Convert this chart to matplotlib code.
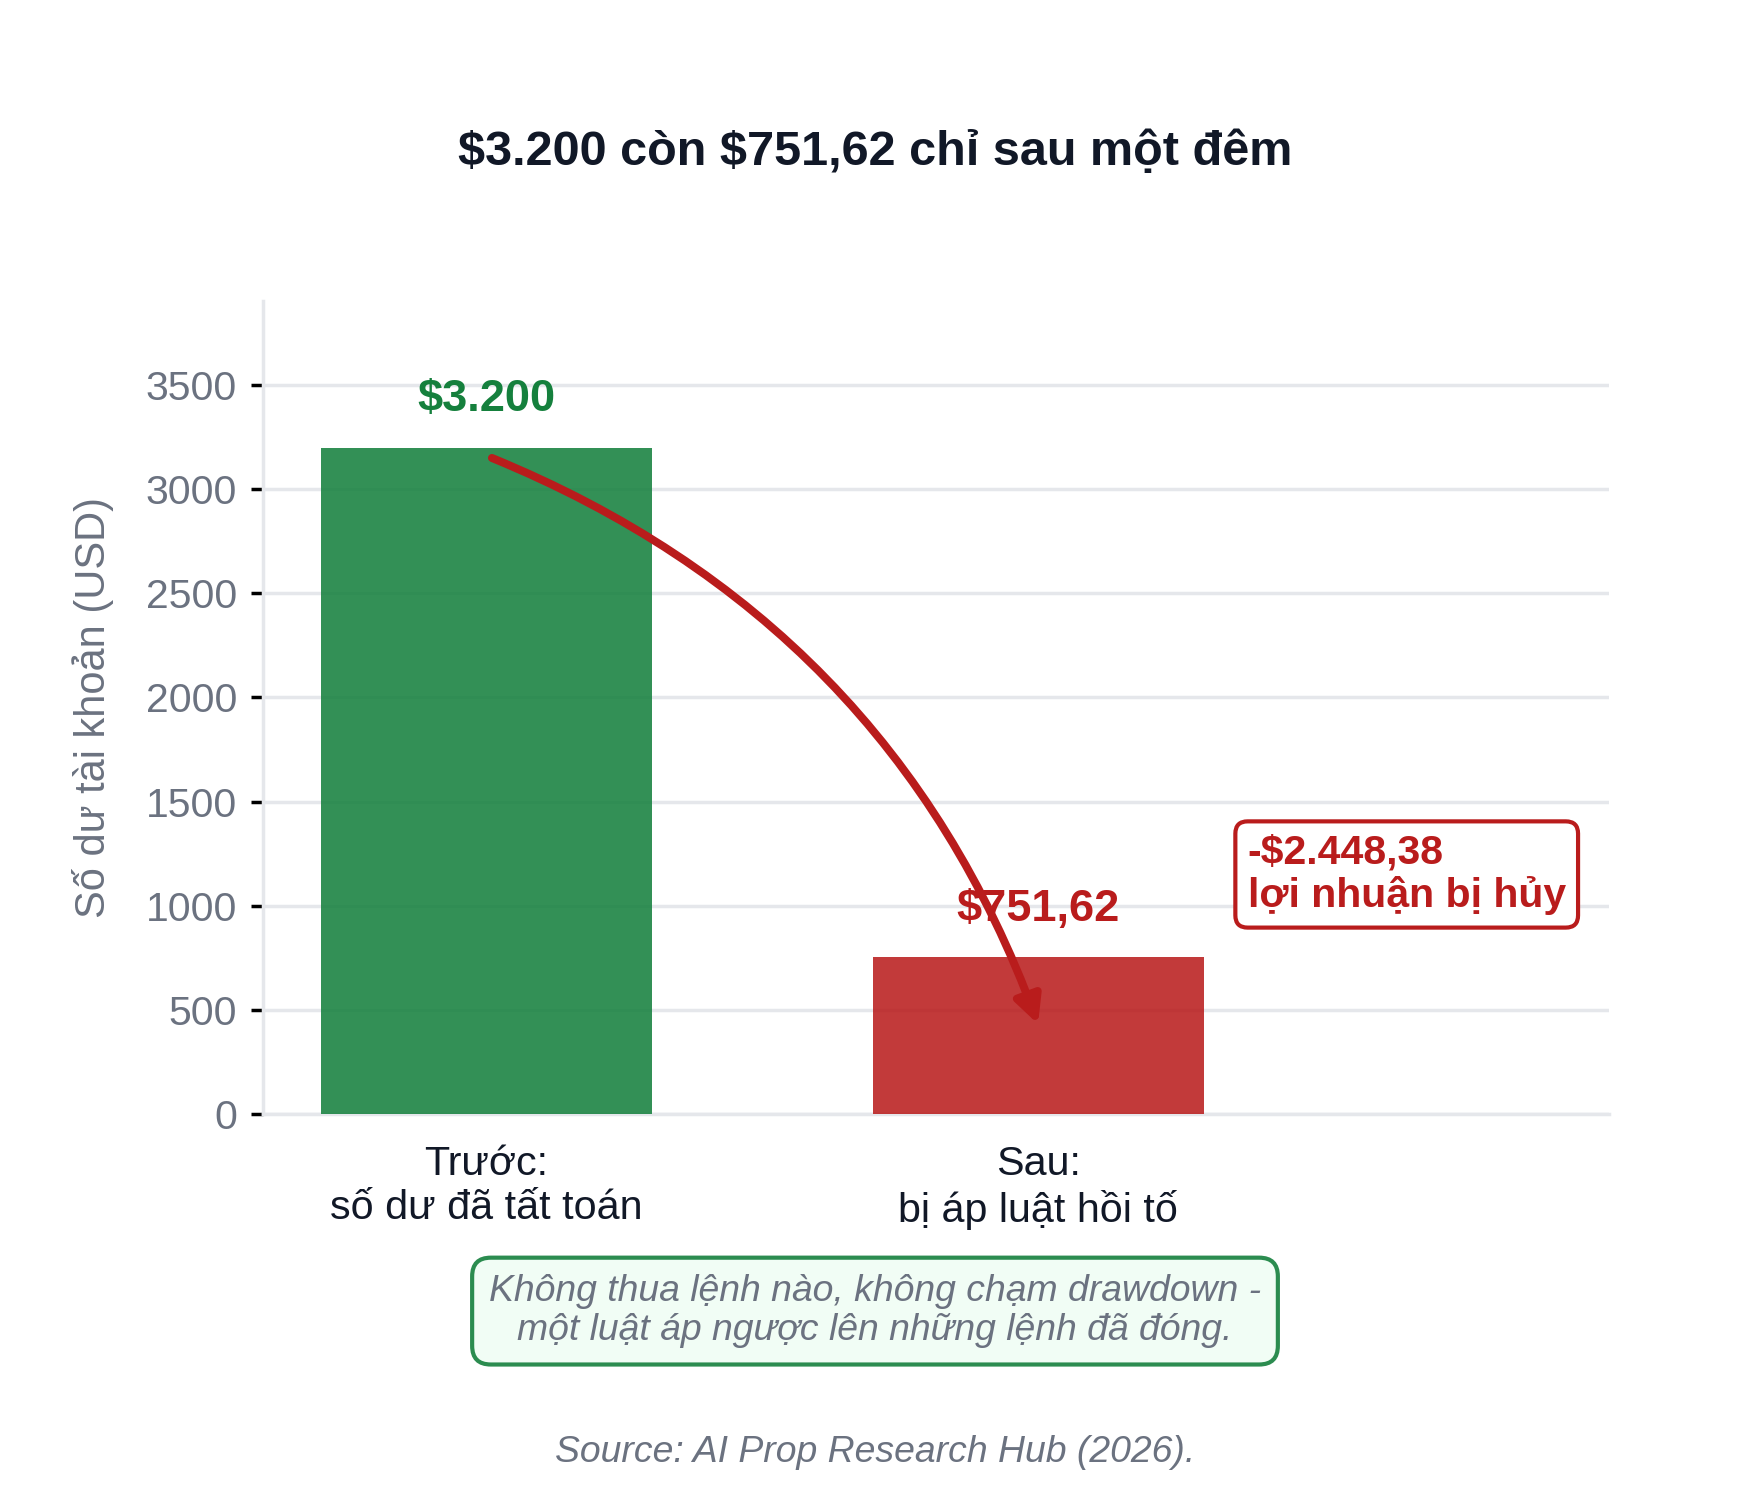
import matplotlib
matplotlib.use("Agg")
import matplotlib.pyplot as plt

plt.rcParams['font.family'] = ['Liberation Sans', 'DejaVu Sans']

# ---- data ----
categories = ["Trước:\nsố dư đã tất toán", "Sau:\nbị áp luật hồi tố"]
values = [3200.0, 751.62]
value_labels = ["$3.200", "$751,62"]
loss_label = "-$2.448,38\nlợi nhuận bị hủy"
title = "$3.200 còn $751,62 chỉ sau một đêm"
ylabel = "Số dư tài khoản (USD)"
note = "Không thua lệnh nào, không chạm drawdown -\nmột luật áp ngược lên những lệnh đã đóng."
source = "Source: AI Prop Research Hub (2026)."
yticks = [0, 500, 1000, 1500, 2000, 2500, 3000, 3500]

GREEN = "#15803d"
RED = "#b91c1c"
DARK = "#111827"
GRAY = "#6b7280"
GRID = "#e5e7eb"

fig = plt.figure(figsize=(7, 6.028), dpi=250)
ax = fig.add_axes([0.1503, 0.2608, 0.7691, 0.5395])

x = list(range(len(categories)))
ax.bar(x, values, width=0.6, color=[GREEN, RED], alpha=0.87, zorder=3)

ymax = max(values) * 1.22
ax.set_ylim(0, ymax)
ax.set_xlim(-0.405, 2.035)

for xi, v, lab, c in zip(x, values, value_labels, [GREEN, RED]):
    ax.text(xi, v + ymax * 0.034, lab, ha="center", va="bottom",
            fontsize=13, fontweight="bold", color=c, zorder=5,
            parse_math=False)

# curved arrow
ax.annotate("", xy=(x[1], values[1] - 320), xytext=(x[0] + 0.01, values[0] - 50),
            arrowprops=dict(arrowstyle="-|>", color=RED, lw=2.3,
                            mutation_scale=16, shrinkA=0, shrinkB=0,
                            connectionstyle="arc3,rad=-0.22"), zorder=6)

# loss box
ax.text(1.38, 1150, loss_label, ha="left", va="center", fontsize=11.8,
        fontweight="bold", color=RED, linespacing=1.15, zorder=6,
        parse_math=False,
        bbox=dict(boxstyle="round,pad=0.3,rounding_size=0.3", fc="white",
                  ec=RED, lw=1.2))

ax.set_xticks(x)
ax.set_xticklabels(categories, fontsize=11.9, color=DARK)
ax.tick_params(axis="x", length=0, pad=9)
ax.set_yticks(yticks)
ax.tick_params(axis="y", labelsize=11.8, labelcolor=GRAY, length=3.5,
               width=1, color="black", pad=4)
ax.set_ylabel(ylabel, fontsize=12, color=GRAY, labelpad=9)

ax.grid(axis="y", color=GRID, lw=1, zorder=0)
ax.set_axisbelow(True)
for s in ["top", "right"]:
    ax.spines[s].set_visible(False)
for s in ["left", "bottom"]:
    ax.spines[s].set_color(GRID)
    ax.spines[s].set_linewidth(1)

fig.text(0.5, 0.899, title, ha="center", va="center", fontsize=14,
         fontweight="bold", color=DARK, parse_math=False)

fig.text(0.5, 0.130, note, ha="center", va="center", fontsize=10.75,
         style="italic", color=GRAY, linespacing=1.12,
         bbox=dict(boxstyle="round,pad=0.45,rounding_size=0.5", fc="#f0fdf4",
                   ec=GREEN, lw=1.2, alpha=0.9))

fig.text(0.5, 0.036, source, ha="center", va="center", fontsize=10.75,
         style="italic", color=GRAY)

fig.savefig("out.png", dpi=250)
